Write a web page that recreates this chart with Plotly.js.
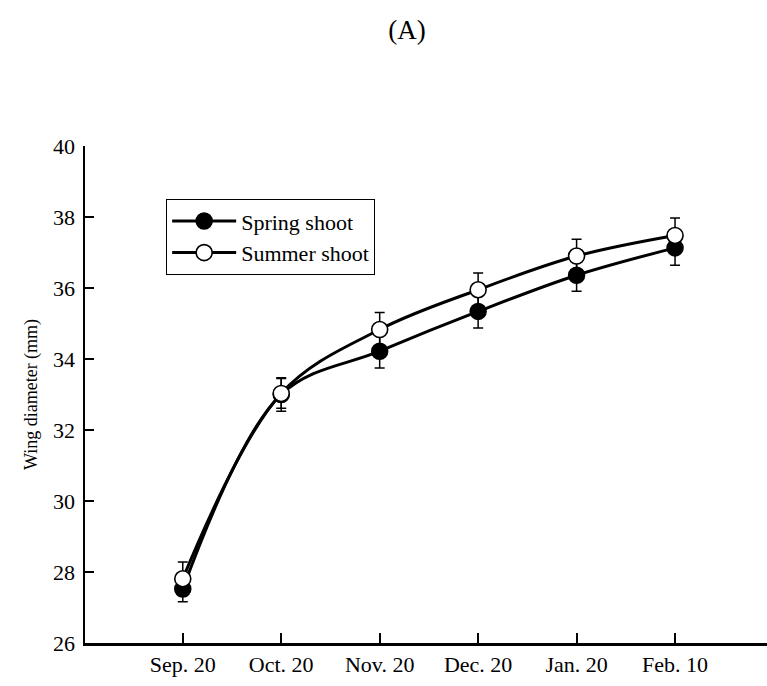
<!DOCTYPE html>
<html>
<head>
<meta charset="utf-8">
<script src="https://cdn.plot.ly/plotly-3.0.1.min.js"></script>
<style>
html, body { margin: 0; padding: 0; background: #fff; }
#chart { width: 767px; height: 686px; }
</style>
</head>
<body>
<div id="chart"></div>
<script>
const categories = ["Sep. 20", "Oct. 20", "Nov. 20", "Dec. 20", "Jan. 20", "Feb. 10"];
const springValues = [27.52, 33.0, 34.22, 35.34, 36.36, 37.13];
const springErrors = [0.36, 0.47, 0.47, 0.47, 0.45, 0.49];
const summerValues = [27.81, 33.03, 34.83, 35.95, 36.9, 37.48];
const summerErrors = [0.47, 0.42, 0.48, 0.47, 0.47, 0.49];
const yTicks = [26, 28, 30, 32, 34, 36, 38, 40];

const font = "Liberation Serif, Times New Roman, serif";

const spring = {
  type: "scatter", mode: "lines+markers", name: "Spring shoot",
  x: categories, y: springValues,
  line: { color: "#000", width: 3, shape: "spline", smoothing: 1 },
  marker: { symbol: "circle", size: 16, color: "#000", line: { color: "#000", width: 1.5 } },
  error_y: { type: "data", array: springErrors, visible: true, color: "#000", thickness: 1.5, width: 5 }
};
const summer = {
  type: "scatter", mode: "lines+markers", name: "Summer shoot",
  x: categories, y: summerValues,
  line: { color: "#000", width: 3, shape: "spline", smoothing: 1 },
  marker: { symbol: "circle", size: 16, color: "#fff", line: { color: "#000", width: 1.6 } },
  error_y: { type: "data", array: summerErrors, visible: true, color: "#000", thickness: 1.5, width: 5 }
};

const layout = {
  width: 767, height: 686,
  margin: { l: 85, r: 0, t: 146, b: 43, pad: 0 },
  paper_bgcolor: "#fff", plot_bgcolor: "#fff",
  font: { family: font, color: "#000", size: 22 },
  showlegend: true,
  title: {
    text: "(A)", xref: "container", yref: "container",
    x: 407 / 767, xanchor: "center", y: 1 - 30 / 686, yanchor: "middle",
    font: { family: font, size: 27, color: "#000" }
  },
  xaxis: {
    type: "category", range: [-0.993, 5.934],
    showgrid: false, zeroline: false,
    showline: true, linecolor: "#000", linewidth: 2.5,
    ticks: "inside", ticklen: 10, tickwidth: 2, tickcolor: "#000",
    tickfont: { family: font, size: 22, color: "#000" },
    fixedrange: true
  },
  yaxis: {
    range: [26, 40], tickvals: yTicks, ticktext: yTicks.map(String),
    showgrid: false, zeroline: false,
    showline: true, linecolor: "#000", linewidth: 2.5,
    ticks: "inside", ticklen: 9, tickwidth: 2, tickcolor: "#000",
    ticklabelstandoff: 3,
    tickfont: { family: font, size: 22, color: "#000" },
    title: { text: "Wing diameter (mm)", font: { family: font, size: 18, color: "#000" }, standoff: 11 },
    fixedrange: true
  },
  legend: {
    x: 0.119, y: 0.893, xanchor: "left", yanchor: "top",
    bgcolor: "#fff", bordercolor: "#000", borderwidth: 1,
    font: { family: font, size: 22, color: "#000" },
    itemwidth: 64, tracegroupgap: 0
  }
};

Plotly.newPlot("chart", [spring, summer], layout, { displayModeBar: false, staticPlot: true });
</script>
</body>
</html>
